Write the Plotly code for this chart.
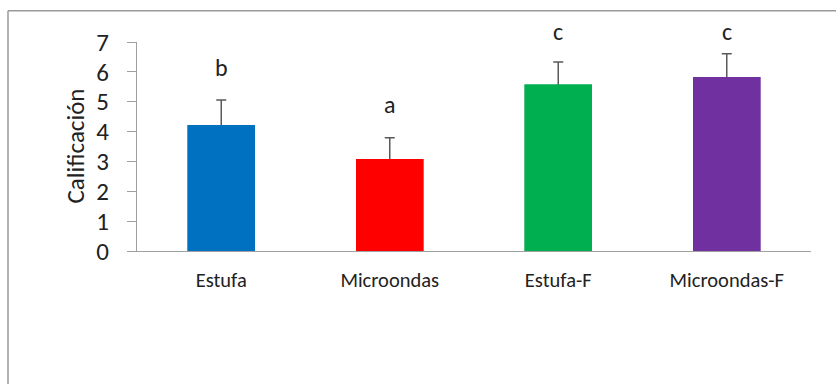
import plotly.graph_objects as go

# Sensory score per drying treatment (mean ± SD) and significance groups
categories = ["Estufa", "Microondas", "Estufa-F", "Microondas-F"]
means = [4.22, 3.08, 5.58, 5.83]
sd = [0.84, 0.71, 0.75, 0.78]
groups = ["b", "a", "c", "c"]
colors = ["#0070C0", "#FF0000", "#00B050", "#7030A0"]
y_ticks = [0, 1, 2, 3, 4, 5, 6, 7]
y_max = 7

FONT = "Carlito, Calibri, Lato, sans-serif"
TEXT = "#222222"
AXIS = "#A0A0A0"

W, H = 836, 384
L, R, T, B = 137, 25, 42, 133
pw, ph = W - L - R, H - T - B

fig = go.Figure()
# Bars carrying the SD whiskers; a second identical bar layer on top hides the lower half
fig.add_trace(go.Bar(
    x=categories, y=means, width=0.4,
    marker=dict(color=colors, line=dict(width=0)),
    error_y=dict(type="data", array=sd, color="#595959", thickness=1.5, width=5),
))
fig.add_trace(go.Bar(
    x=categories, y=means, width=0.4,
    marker=dict(color=colors, line=dict(width=0)),
))

# Significance letters above each error bar, kept inside the frame
for cat, m, s, g in zip(categories, means, sd, groups):
    fig.add_annotation(
        x=cat, yref="paper", y=min(m + s + 1.1, y_max + 0.35) / y_max,
        text=g, showarrow=False,
        font=dict(family=FONT, size=24, color=TEXT),
        xanchor="center", yanchor="middle",
    )

# Y-axis title
fig.add_annotation(
    xref="paper", yref="paper", x=(75 - L) / pw, y=0.5,
    text="Calificación", textangle=-90, showarrow=False,
    font=dict(family=FONT, size=25, color=TEXT),
    xanchor="center", yanchor="middle",
)

# Outer chart frame (left and top edges)
fx = (8 - L) / pw
fy = (H - B - 10.7) / ph
fig.add_shape(type="line", xref="paper", yref="paper",
              x0=fx, x1=fx, y0=-1.0, y1=fy,
              line=dict(color="#999999", width=1.5))
fig.add_shape(type="line", xref="paper", yref="paper",
              x0=fx, x1=1.2, y0=fy, y1=fy,
              line=dict(color="#999999", width=1.5))

fig.update_layout(
    width=W, height=H,
    margin=dict(l=L, r=R, t=T, b=B),
    paper_bgcolor="white", plot_bgcolor="white",
    showlegend=False,
    barmode="overlay",
    xaxis=dict(
        showline=True, linecolor=AXIS, linewidth=1.2,
        ticks="", showgrid=False, zeroline=False,
        tickfont=dict(family=FONT, size=20.5, color=TEXT),
        ticklabelstandoff=10,
    ),
    yaxis=dict(
        range=[0, y_max], tickvals=y_ticks,
        showline=True, linecolor=AXIS, linewidth=1.2,
        ticks="outside", ticklen=9, tickcolor=AXIS, tickwidth=1.2,
        showgrid=False, zeroline=False,
        tickfont=dict(family=FONT, size=25, color=TEXT),
        ticklabelstandoff=13,
    ),
)

fig.write_html("out.html")
